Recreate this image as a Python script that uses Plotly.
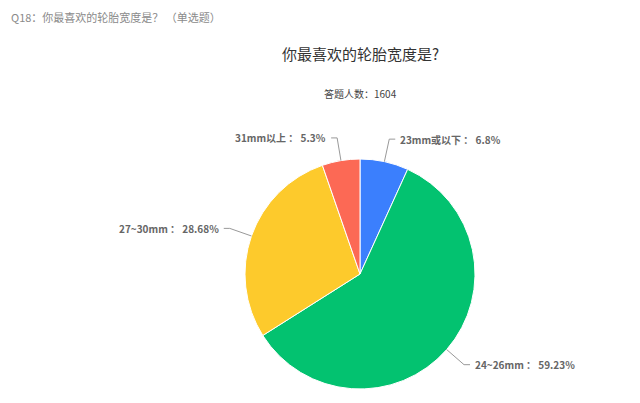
import math
import plotly.graph_objects as go

categories = ["23mm或以下", "24~26mm", "27~30mm", "31mm以上"]
values = [6.8, 59.23, 28.68, 5.3]
value_labels = ["6.8%", "59.23%", "28.68%", "5.3%"]
colors = ["#3b7ffd", "#03c270", "#fdca2c", "#fc6955"]

W, H = 640, 403
OFF = 8  # page body margin
CX, CY, R = 360 - OFF, 274 - OFF, 115

fig = go.Figure(go.Pie(
    labels=categories, values=values, sort=False, direction="clockwise",
    rotation=0, textinfo="none", hoverinfo="label+percent",
    marker=dict(colors=colors, line=dict(color="white", width=1)),
    domain=dict(x=[(CX - R) / W, (CX + R) / W],
                y=[(H - CY - R) / H, (H - CY + R) / H]),
    showlegend=False,
))

total = sum(values)
cum = 0.0
shapes, annos = [], []
for cat, v, lab in zip(categories, values, value_labels):
    mid = (cum + v / 2) / total * 2 * math.pi
    cum += v
    s, c = math.sin(mid), math.cos(mid)
    x1, y1 = CX + R * s, CY - R * c
    x2, y2 = CX + 1.2 * R * s, CY - 1.2 * R * c
    side = 1 if s >= 0 else -1
    x3 = x2 + side * 6
    shapes.append(dict(type="path", xref="paper", yref="paper",
                       path=f"M {x1/W},{1-y1/H} L {x2/W},{1-y2/H} L {x3/W},{1-y2/H}",
                       line=dict(color="#999999", width=1)))
    annos.append(dict(x=(x3 + side * 3) / W, y=1 - y2 / H, xref="paper", yref="paper",
                      text=f"<b>{cat} ： {lab}</b>", showarrow=False,
                      xanchor="left" if side > 0 else "right", yanchor="middle",
                      font=dict(size=10, color="#666666")))

annos.append(dict(x=(10 - OFF) / W, y=1.0, xref="paper", yref="paper",
                  text="Q18：你最喜欢的轮胎宽度是？ （单选题）", showarrow=False,
                  xanchor="left", yanchor="top", borderpad=0,
                  font=dict(size=11, color="#8a8a8a")))
annos.append(dict(x=(360 - OFF) / W, y=1 - (54 - OFF) / H, xref="paper", yref="paper",
                  text="你最喜欢的轮胎宽度是?", showarrow=False,
                  xanchor="center", yanchor="middle", font=dict(size=15, color="#333333")))
annos.append(dict(x=(360 - OFF) / W, y=1 - (93 - OFF) / H, xref="paper", yref="paper",
                  text="答题人数：1604", showarrow=False,
                  xanchor="center", yanchor="middle", font=dict(size=10, color="#444444")))

fig.update_layout(
    width=W, height=H, margin=dict(l=0, r=0, t=0, b=0),
    paper_bgcolor="white", plot_bgcolor="white",
    font=dict(family="Noto Sans CJK SC, sans-serif"),
    shapes=shapes, annotations=annos,
)
fig.write_html("out.html")
